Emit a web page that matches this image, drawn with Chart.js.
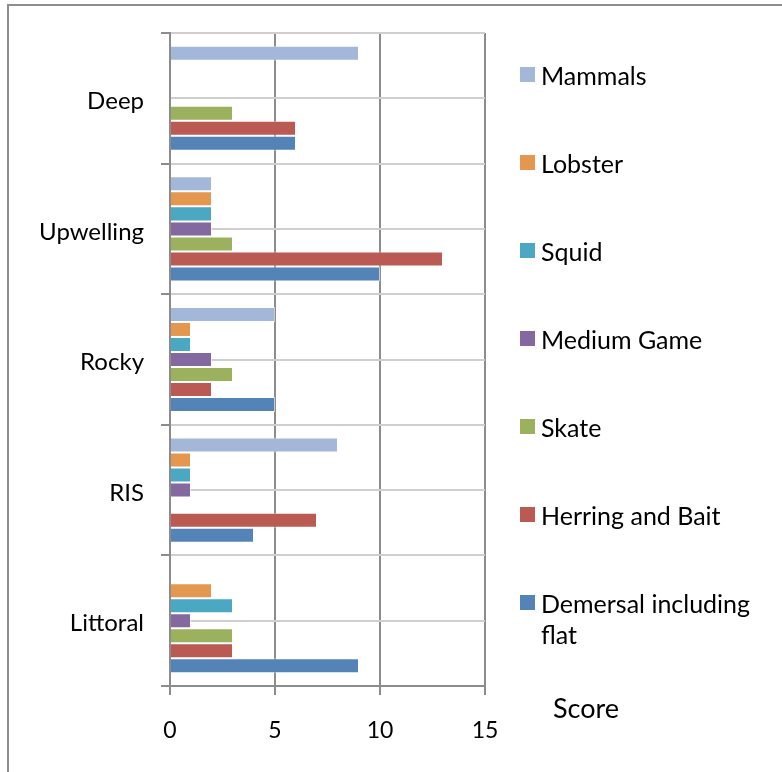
<!DOCTYPE html>
<html>
<head>
<meta charset="utf-8">
<title>Score by habitat</title>
<script src="https://cdn.jsdelivr.net/npm/chart.js@4.4.1/dist/chart.umd.min.js"></script>
<style>
  html, body { margin: 0; padding: 0; background: #fff; }
  #wrap { width: 782px; height: 772px; }
</style>
</head>
<body>
<div id="wrap"><canvas id="scoreChart" width="782" height="772"></canvas></div>
<script>
// categories, top to bottom
const categories = ['Deep', 'Upwelling', 'Rocky', 'RIS', 'Littoral'];

// series values, one per category
const mammals    = [9, 2, 5, 8, 0];
const lobster    = [0, 2, 1, 1, 2];
const squid      = [0, 2, 1, 1, 3];
const mediumGame = [0, 2, 2, 1, 1];
const skate      = [3, 3, 3, 0, 3];
const herring    = [6, 13, 2, 7, 3];
const demersal   = [6, 10, 5, 4, 9];

const seriesNames = ['Mammals', 'Lobster', 'Squid', 'Medium Game', 'Skate', 'Herring and Bait', 'Demersal including flat'];
const seriesValues = [mammals, lobster, squid, mediumGame, skate, herring, demersal];
const seriesColors = ['#A3B7D9', '#E4984F', '#4BA8C2', '#8468A0', '#9BB15E', '#BA5A52', '#5383B7'];

const xTicks = [0, 5, 10, 15];
const xTitle = 'Score';

const FONT = 'Lato';
Chart.defaults.font.family = FONT;
Chart.defaults.color = '#000';

const datasets = seriesNames.map((name, i) => ({
    label: name,
    data: seriesValues[i],
    backgroundColor: seriesColors[i],
    borderColor: 'rgba(255,255,255,0.55)',
    borderWidth: 1,
    categoryPercentage: 0.805,
    barPercentage: 1
}));

// frame, legend and axis title
const extrasPlugin = {
    id: 'extras',
    afterDraw(chart) {
        const ctx = chart.ctx;
        ctx.save();

        ctx.strokeStyle = '#8e8e8e';
        ctx.lineWidth = 2;
        ctx.beginPath();
        ctx.moveTo(8, 800);
        ctx.lineTo(8, 5);
        ctx.lineTo(800, 5);
        ctx.stroke();

        ctx.font = '25px ' + FONT;
        ctx.textBaseline = 'middle';
        ctx.textAlign = 'left';
        const maxW = 222;
        chart.data.datasets.forEach((ds, i) => {
            const y = 77 + i * 88;
            ctx.fillStyle = ds.backgroundColor;
            ctx.fillRect(520, y - 10, 15, 15);
            ctx.fillStyle = '#000';
            const words = ds.label.split(' ');
            let line = '';
            let ly = y;
            words.forEach(w => {
                const test = line ? line + ' ' + w : w;
                if (ctx.measureText(test).width > maxW && line) {
                    ctx.fillText(line, 541, ly);
                    line = w;
                    ly += 31;
                } else {
                    line = test;
                }
            });
            ctx.fillText(line, 541, ly);
        });

        ctx.font = '27px ' + FONT;
        ctx.fillText(xTitle, 553, 709);
        ctx.restore();
    }
};

new Chart(document.getElementById('scoreChart'), {
    type: 'bar',
    data: { labels: categories, datasets: datasets },
    options: {
        indexAxis: 'y',
        responsive: false,
        animation: false,
        layout: { padding: { top: 33, right: 297, left: 0, bottom: 0 } },
        plugins: {
            legend: { display: false },
            tooltip: { enabled: false }
        },
        scales: {
            x: {
                type: 'linear',
                min: 0,
                max: 15,
                afterBuildTicks: (scale) => { scale.ticks = xTicks.map(v => ({ value: v })); },
                afterFit: (scale) => { scale.height = 86; },
                ticks: { font: { size: 23 }, padding: 22, color: '#000' },
                grid: { color: '#8c8c8c', lineWidth: 2, tickLength: 9, tickColor: '#8c8c8c' },
                border: { color: '#8c8c8c', width: 2 }
            },
            y: {
                type: 'category',
                offset: true,
                afterFit: (scale) => { scale.width = 170; },
                ticks: { font: { size: 24 }, padding: 17, labelOffset: 3, color: '#000' },
                grid: { offset: true, color: '#cfcfcf', lineWidth: 2, tickLength: 9, tickColor: '#8c8c8c' },
                border: { color: '#8c8c8c', width: 2 }
            },
            y2: {
                type: 'category',
                position: 'left',
                offset: true,
                afterFit: (scale) => { scale.width = 0; },
                ticks: { display: false },
                grid: { offset: false, color: '#cfcfcf', lineWidth: 2, drawTicks: false },
                border: { display: false }
            }
        }
    },
    plugins: [extrasPlugin]
});
</script>
</body>
</html>
